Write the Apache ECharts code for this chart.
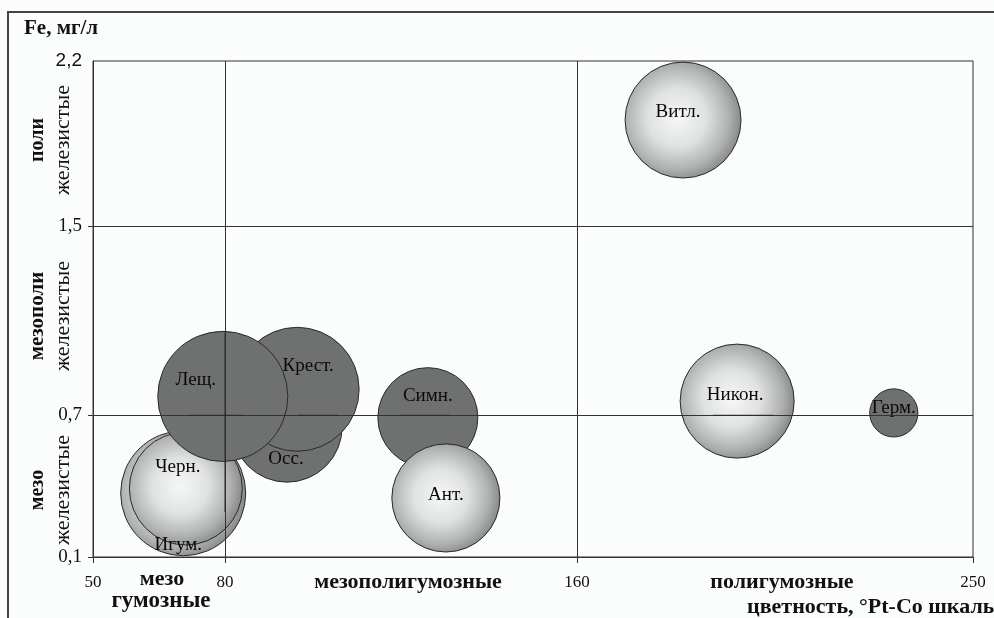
<!DOCTYPE html>
<html>
<head>
<meta charset="utf-8">
<script src="https://cdn.jsdelivr.net/npm/echarts@6/dist/echarts.min.js"></script>
<style>
  html, body { margin: 0; padding: 0; background: #fbfcfc; }
  #chart { width: 994px; height: 618px; }
</style>
</head>
<body>
<div id="chart"></div>
<script>
// Lakes: colour (°Pt-Co) vs. iron content (mg/l), bubble size = relative load
const lakes   = ['Игум.', 'Черн.', 'Осс.', 'Крест.', 'Лещ.', 'Симн.', 'Ант.', 'Витл.', 'Никон.', 'Герм.'];
const colour  = [70.5, 71.1, 94.1, 96.4, 79.5, 126.1, 130.2, 184.1, 196.4, 232.0];
const iron    = [0.37, 0.39, 0.65, 0.81, 0.78, 0.69, 0.35, 1.95, 0.76, 0.71];
const bubble  = [39.1, 31.9, 30.3, 38.4, 42.3, 25.0, 29.2, 33.6, 32.5, 5.8];
const darkSet = ['Осс.', 'Крест.', 'Лещ.', 'Симн.', 'Герм.'];

const xTicks = [50, 80, 160, 250];
const yTicks = [0.1, 0.7, 1.5, 2.2];
const xBounds = [80, 160];   // humic-class boundaries
const yBounds = [0.7, 1.5];  // iron-class boundaries

// boundary fragments that show through the overlapping bubbles: x1, y1, x2, y2
const boundaryBits = [
  [71.6, 0.7, 84.1, 0.7],
  [96.6, 0.7, 105.7, 0.7],
  [120.0, 0.7, 131.0, 0.7],
  [191.0, 0.7, 204.5, 0.7],
  [80, 0.29, 80, 1.05]
];

// label placement inside each bubble (px offset from centre)
const labelShift = {
  'Игум.': [-5, 52], 'Черн.': [-8, -21], 'Осс.': [-1, 32], 'Крест.': [11, -23],
  'Лещ.': [-27, -16], 'Симн.': [0, -22], 'Ант.': [0, -3], 'Витл.': [-5, -8],
  'Никон.': [-2, -6], 'Герм.': [0, -5]
};

const SERIF = '"Liberation Serif", "DejaVu Serif", serif';

const sphere = {
  type: 'radial', x: 0.45, y: 0.48, r: 0.55,
  colorStops: [
    { offset: 0, color: '#f6f7f7' },
    { offset: 0.45, color: '#e0e1e1' },
    { offset: 0.8, color: '#b0b1b1' },
    { offset: 1, color: '#888989' }
  ]
};

const points = lakes.map((name, i) => {
  const dark = darkSet.includes(name);
  return {
    name,
    value: [colour[i], iron[i], bubble[i]],
    itemStyle: {
      color: dark ? '#6f7070' : sphere,
      borderColor: '#2a2a2a',
      borderWidth: 1,
      opacity: 1
    },
    label: { offset: labelShift[name] }
  };
});

const fmt = v => {
  const s = String(v).replace('.', ',');
  return v === 2.2 ? '{s|' + s + '}' : s;
};

const chart = echarts.init(document.getElementById('chart'), null, { renderer: 'canvas' });

chart.setOption({
  backgroundColor: '#fbfcfc',
  animation: false,
  grid: { left: 93, right: 21, top: 61, bottom: 61, show: true, borderColor: '#333', borderWidth: 1, backgroundColor: 'transparent' },
  xAxis: {
    type: 'value', min: 50, max: 250,
    axisLine: { show: true, onZero: false, lineStyle: { color: '#333' } },
    axisTick: { show: true, customValues: xTicks, length: 6, lineStyle: { color: '#333' } },
    axisLabel: { customValues: xTicks, margin: 17, fontFamily: SERIF, fontSize: 17, color: '#111', formatter: fmt },
    splitLine: { show: false }
  },
  yAxis: {
    type: 'value', min: 0.1, max: 2.2,
    axisLine: { show: true, onZero: false, lineStyle: { color: '#333' } },
    axisTick: { show: true, customValues: [0.1, 0.7, 1.5], length: 5, lineStyle: { color: '#333' } },
    axisLabel: {
      customValues: yTicks, margin: 11, fontFamily: SERIF, fontSize: 19, color: '#111', formatter: fmt,
      rich: { s: { fontFamily: '"Liberation Sans", Arial, sans-serif', fontSize: 19, color: '#111' } }
    },
    splitLine: { show: false }
  },
  series: [
    {
      // class boundaries drawn beneath the bubbles
      type: 'scatter', data: [], silent: true, z: 1,
      markLine: {
        silent: true, symbol: 'none', animation: false,
        label: { show: false },
        lineStyle: { color: '#333', width: 1, type: 'solid' },
        data: [
          ...xBounds.map(v => ({ xAxis: v })),
          ...yBounds.map(v => ({ yAxis: v }))
        ]
      }
    },
    {
      type: 'scatter', z: 3,
      data: points,
      symbolSize: d => 20 * Math.sqrt(d[2]),
      label: {
        show: true, position: 'inside',
        formatter: p => p.name,
        fontFamily: SERIF, fontSize: 19, color: '#0a0a0a'
      }
    },
    {
      type: 'custom', z: 6, silent: true,
      data: boundaryBits,
      encode: { x: [0, 2], y: [1, 3] },
      renderItem: (params, api) => {
        const a = api.coord([api.value(0), api.value(1)]);
        const b = api.coord([api.value(2), api.value(3)]);
        return {
          type: 'line',
          shape: { x1: a[0], y1: a[1], x2: b[0], y2: b[1] },
          style: { stroke: '#2a2a2a', lineWidth: 1 }
        };
      }
    }
  ],
  graphic: [
    // outer frame
    { type: 'polyline', silent: true, z: 0,
      shape: { points: [[8, 630], [8, 12], [1000, 12]] },
      style: { stroke: '#444', lineWidth: 2, fill: null } },
    { type: 'text', x: 24, y: 29,
      style: { text: 'Fe, мг/л', font: 'bold 21px ' + SERIF, fill: '#111', verticalAlign: 'middle' } },
    // iron classes
    { type: 'text', x: 38, y: 140, rotation: Math.PI / 2,
      style: { text: 'поли', font: 'bold 20px ' + SERIF, fill: '#111', align: 'center', verticalAlign: 'middle' } },
    { type: 'text', x: 63, y: 140, rotation: Math.PI / 2,
      style: { text: 'железистые', font: '22px ' + SERIF, fill: '#111', align: 'center', verticalAlign: 'middle' } },
    { type: 'text', x: 38, y: 316, rotation: Math.PI / 2,
      style: { text: 'мезополи', font: 'bold 21px ' + SERIF, fill: '#111', align: 'center', verticalAlign: 'middle' } },
    { type: 'text', x: 63, y: 316, rotation: Math.PI / 2,
      style: { text: 'железистые', font: '22px ' + SERIF, fill: '#111', align: 'center', verticalAlign: 'middle' } },
    { type: 'text', x: 38, y: 490, rotation: Math.PI / 2,
      style: { text: 'мезо', font: 'bold 20px ' + SERIF, fill: '#111', align: 'center', verticalAlign: 'middle' } },
    { type: 'text', x: 63, y: 490, rotation: Math.PI / 2,
      style: { text: 'железистые', font: '22px ' + SERIF, fill: '#111', align: 'center', verticalAlign: 'middle' } },
    // humic classes
    { type: 'text', x: 162, y: 579,
      style: { text: 'мезо', font: 'bold 22px ' + SERIF, fill: '#111', align: 'center', verticalAlign: 'middle' } },
    { type: 'text', x: 161, y: 601,
      style: { text: 'гумозные', font: 'bold 23px ' + SERIF, fill: '#111', align: 'center', verticalAlign: 'middle' } },
    { type: 'text', x: 408, y: 582,
      style: { text: 'мезополигумозные', font: 'bold 22px ' + SERIF, fill: '#111', align: 'center', verticalAlign: 'middle' } },
    { type: 'text', x: 782, y: 582,
      style: { text: 'полигумозные', font: 'bold 22px ' + SERIF, fill: '#111', align: 'center', verticalAlign: 'middle' } },
    { type: 'text', x: 747, y: 607,
      style: { text: 'цветность, °Pt-Co шкалы', font: 'bold 22px ' + SERIF, fill: '#111', align: 'left', verticalAlign: 'middle' } }
  ]
});
</script>
</body>
</html>
